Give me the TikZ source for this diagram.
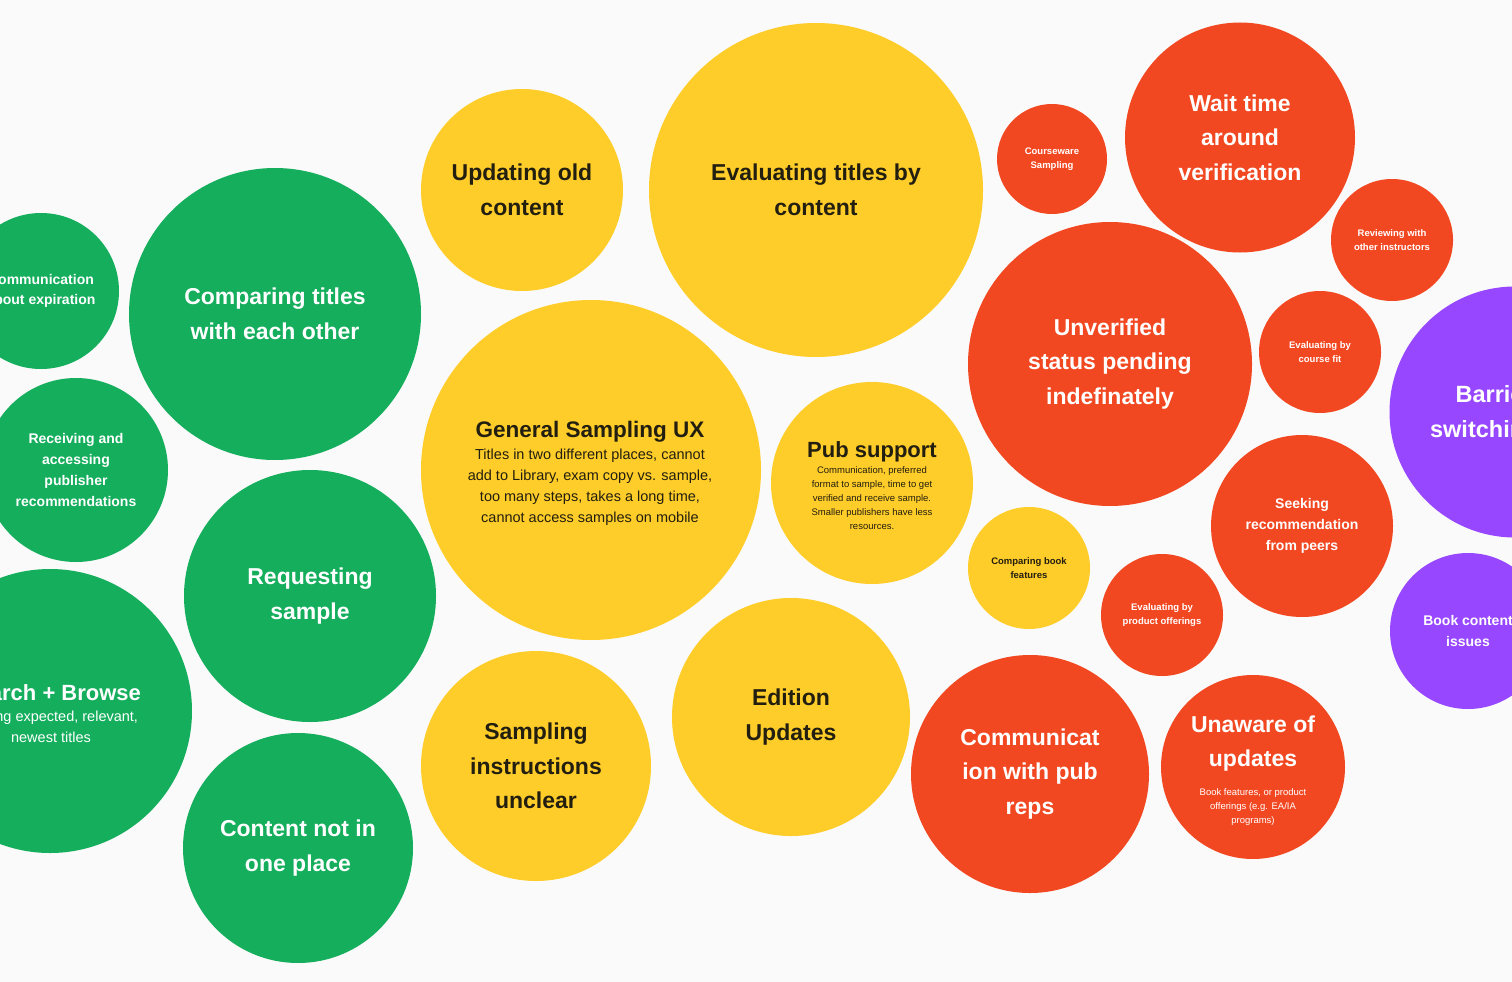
\documentclass[tikz,border=0pt]{standalone}
\usepackage{fontspec}
\setmainfont{Liberation Sans}
\definecolor{gre}{HTML}{14AE5C}
\definecolor{redc}{HTML}{F24822}
\definecolor{yel}{HTML}{FFCD29}
\definecolor{pur}{HTML}{9747FF}
\definecolor{bgc}{HTML}{FAFAFA}
\definecolor{dark}{HTML}{221E10}
\newcommand\myfs[2]{\fontsize{#1}{#2}\selectfont}
\begin{document}
\begin{tikzpicture}[x=1pt,y=-1pt,
  bub/.style={circle,inner sep=0pt,align=center,text=white},
  gb/.style={bub,fill=gre},
  rb/.style={bub,fill=redc},
  yb/.style={bub,fill=yel,text=dark},
  pb/.style={bub,fill=pur},
  bigt/.style={font=\myfs{23}{34.5}\bfseries},
  medt/.style={font=\myfs{14}{20.7}\bfseries},
  smt/.style={font=\myfs{9.5}{14}\bfseries},
  subt/.style={font=\myfs{14.5}{21},align=center,inner sep=0pt},
  tinyt/.style={font=\myfs{9.5}{13.8},align=center,inner sep=0pt},
  ttl/.style={align=center,inner sep=0pt}]
\fill[bgc] (0,0) rectangle (1512,982);
\useasboundingbox (0,0) rectangle (1512,982);
\clip (0,0) rectangle (1512,982);
% green
\node[gb,minimum size=156,medt] (comexp) at (41,291) {Communication\\about expiration};
\node[gb,minimum size=292,bigt] (cmp) at (275,314) {Comparing titles\\with each other};
\node[gb,minimum size=184,medt] (recv) at (76,470) {Receiving and\\accessing\\publisher\\recommendations};
\node[gb,minimum size=252,bigt] (req) at (310,596) {Requesting\\sample};
\node[gb,minimum size=284] (srch) at (50,711) {};
\node[ttl,text=white,font=\myfs{22}{26}\bfseries] (srcht) at (52,693) {Search + Browse};
\node[subt,text=white] (srchs) at (51,727) {Finding expected, relevant,\\newest titles};
\node[gb,minimum size=230,bigt] (cnt) at (298,848) {Content not in\\one place};
% yellow
\node[yb,minimum size=202,bigt] (upd) at (522,190) {Updating old\\content};
\node[yb,minimum size=334,bigt] (evc) at (816,190) {Evaluating titles by\\content};
\node[yb,minimum size=340] (gsux) at (591,470) {};
\node[ttl,text=dark,font=\myfs{22.5}{28}\bfseries] (gsuxt) at (590,432) {General Sampling UX};
\node[subt,text=dark] (gsuxs) at (590,487) {Titles in two different places, cannot\\add to Library, exam copy vs. sample,\\too many steps, takes a long time,\\cannot access samples on mobile};
\node[yb,minimum size=202] (pub) at (872,483) {};
\node[ttl,text=dark,font=\myfs{22}{26}\bfseries] (pubt) at (872,452) {Pub support};
\node[tinyt,text=dark] (pubs) at (872,498) {Communication, preferred\\format to sample, time to get\\verified and receive sample.\\Smaller publishers have less\\resources.};
\node[yb,minimum size=122,smt] (cbf) at (1029,568) {Comparing book\\features};
\node[yb,minimum size=230,bigt] (siu) at (536,766) {Sampling\\instructions\\unclear};
\node[yb,minimum size=238,bigt] (edu) at (791,717) {Edition\\Updates};
% red
\node[rb,minimum size=110,smt] (cws) at (1052,159) {Courseware\\Sampling};
\node[rb,minimum size=230,bigt] (wait) at (1240,137.5) {Wait time\\around\\verification};
\node[rb,minimum size=122,smt] (rev) at (1392,240) {Reviewing with\\other instructors};
\node[rb,minimum size=122,smt] (ecf) at (1320,352) {Evaluating by\\course fit};
\node[rb,minimum size=284,bigt] (unv) at (1110,364) {Unverified\\status pending\\indefinately};
\node[rb,minimum size=182,medt] (seek) at (1302,526) {Seeking\\recommendation\\from peers};
\node[rb,minimum size=122,smt] (epo) at (1162,615) {Evaluating by\\product offerings};
\node[rb,minimum size=238,bigt] (cpr) at (1030,774) {Communicat\\ion with pub\\reps};
\node[rb,minimum size=184] (una) at (1253,767) {};
\node[ttl,text=white,font=\myfs{23}{34.5}\bfseries] (unat) at (1253,743.5) {Unaware of\\updates};
\node[tinyt,text=white] (unas) at (1253,807) {Book features, or product\\offerings (e.g. EA/IA\\programs)};
% purple
\node[pb,minimum size=251] (bar) at (1515,412) {};
\node[ttl,text=white,font=\myfs{23.5}{34.5}\bfseries] (bart) at (1515,414) {Barriers to\\switching titles};
\node[pb,minimum size=156,medt] (bci) at (1468,631) {Book content\\issues};
\end{tikzpicture}
\end{document}
